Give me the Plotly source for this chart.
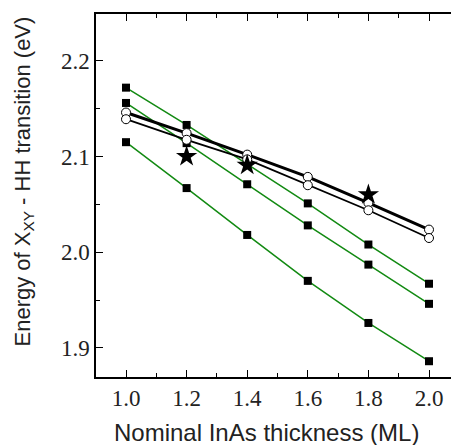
import plotly.graph_objects as go

thickness = [1.0, 1.2, 1.4, 1.6, 1.8, 2.0]

sq_top = [2.172, 2.133, 2.092, 2.051, 2.008, 1.967]
sq_mid = [2.156, 2.114, 2.071, 2.028, 1.987, 1.946]
sq_bot = [2.115, 2.067, 2.018, 1.970, 1.926, 1.886]

circ_upper = [2.146, 2.1245, 2.102, 2.0787, 2.0515, 2.0236]
circ_lower = [2.139, 2.1175, 2.097, 2.070, 2.0438, 2.0148]

star_x = [1.2, 1.4, 1.8]
star_y = [2.100, 2.091, 2.060]

xticks = [1.0, 1.2, 1.4, 1.6, 1.8, 2.0]
yticks = [1.9, 2.0, 2.1, 2.2]

GREEN = "#128a12"

fig = go.Figure()

for ys in [sq_top, sq_mid, sq_bot]:
    fig.add_trace(go.Scatter(
        x=thickness, y=ys, mode="lines+markers",
        line=dict(color=GREEN, width=1.5),
        marker=dict(symbol="square", size=8, color="black"),
        showlegend=False))

fig.add_trace(go.Scatter(
    x=thickness, y=circ_upper, mode="lines+markers",
    line=dict(color="black", width=3),
    marker=dict(symbol="circle", size=9, color="white", line=dict(color="black", width=1)),
    showlegend=False))
fig.add_trace(go.Scatter(
    x=thickness, y=circ_lower, mode="lines+markers",
    line=dict(color="black", width=1.8),
    marker=dict(symbol="circle", size=9, color="white", line=dict(color="black", width=1)),
    showlegend=False))

fig.add_trace(go.Scatter(
    x=star_x, y=star_y, mode="markers",
    marker=dict(symbol="star", size=16, color="black"),
    showlegend=False))

tickfont = dict(family="Liberation Serif", size=23, color="#222")
XR = [0.901, 2.0726]

axis_common = dict(
    ticks="inside", ticklen=7, tickwidth=1.2, tickcolor="black",
    showgrid=False, zeroline=False, automargin=False,
)

fig.update_layout(
    width=451, height=445,
    margin=dict(l=96, r=0, t=14, b=68),
    plot_bgcolor="white", paper_bgcolor="white",
    xaxis=dict(
        range=XR, tickvals=xticks, ticktext=[f"{v:.1f}" for v in xticks],
        minor=dict(ticks="inside", ticklen=4, tickwidth=1.2, tickcolor="black", dtick=0.1, tick0=0.9),
        showline=True, linecolor="black", linewidth=1.5, mirror=False,
        tickfont=tickfont, **axis_common,
    ),
    xaxis2=dict(
        range=XR, overlaying="x", side="top", tickvals=xticks, showticklabels=False,
        minor=dict(ticks="inside", ticklen=4, tickwidth=1.2, tickcolor="black", dtick=0.1, tick0=0.9),
        showline=True, linecolor="black", linewidth=1.5, mirror=False, **axis_common,
    ),
    yaxis=dict(
        range=[1.8695, 2.249], tickvals=yticks, ticktext=[f"{v:.1f}" for v in yticks],
        minor=dict(ticks="inside", ticklen=4, tickwidth=1.2, tickcolor="black", dtick=0.05, tick0=1.85),
        showline=True, linecolor="black", linewidth=1.5, mirror=False,
        tickfont=tickfont, **axis_common,
    ),
    annotations=[
        dict(text="Energy of X<sub>XY</sub> - HH transition (eV)", textangle=-90,
             xref="paper", yref="paper", x=0, y=0.5, xanchor="center", yanchor="middle",
             xshift=-73, yshift=14, showarrow=False,
             font=dict(family="Liberation Sans", size=22, color="#222")),
        dict(text="Nominal InAs thickness (ML)",
             xref="paper", yref="paper", x=0.48, y=0, xanchor="center", yanchor="middle",
             yshift=-55, showarrow=False,
             font=dict(family="Liberation Sans", size=24, color="#222")),
    ],
)

# invisible trace to activate the top axis
fig.add_trace(go.Scatter(x=[None], y=[None], xaxis="x2", showlegend=False, hoverinfo="skip"))

fig.write_html("out.html")
